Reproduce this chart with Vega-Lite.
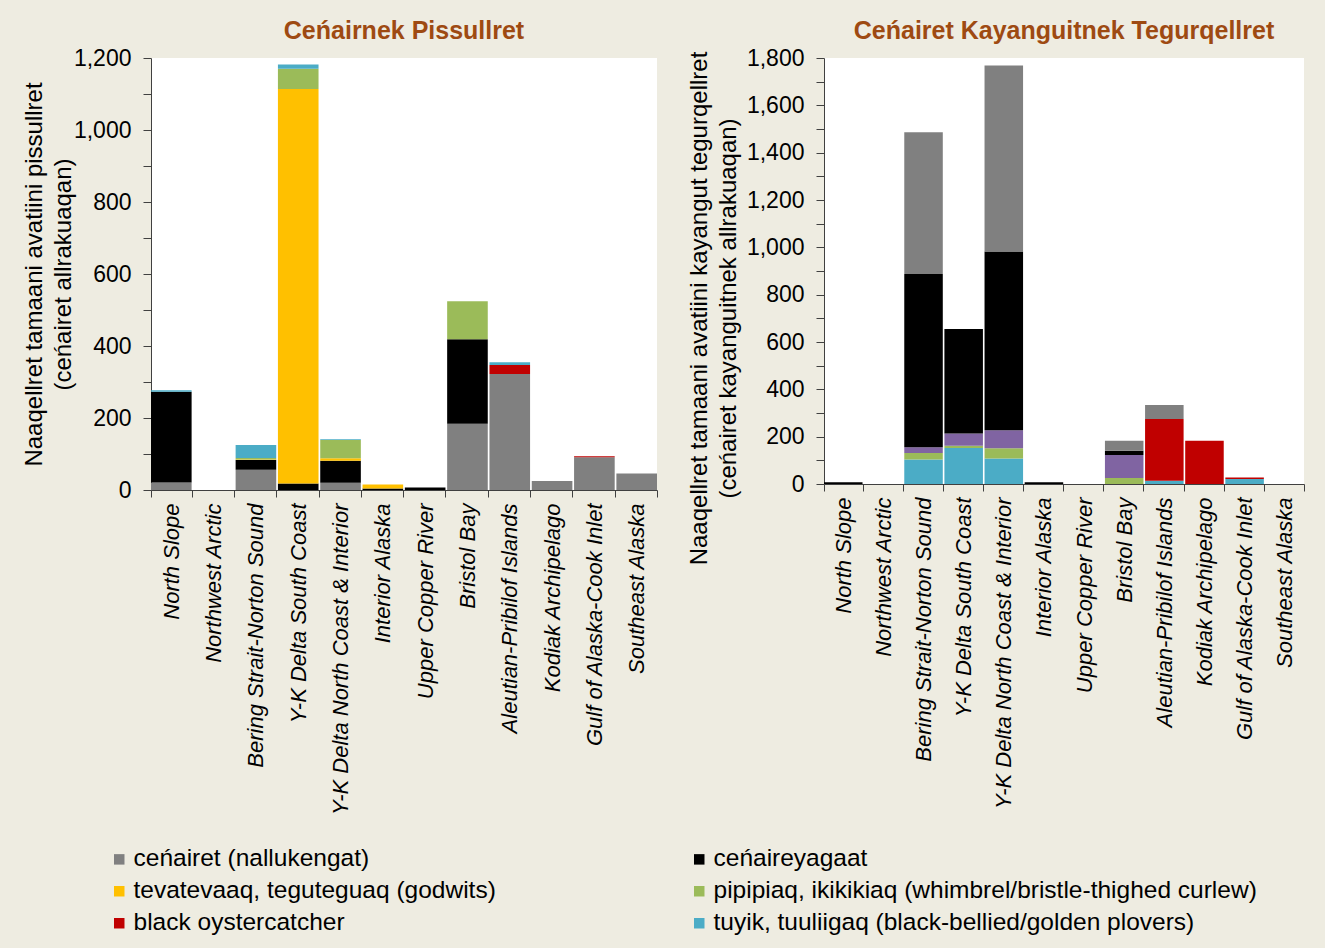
{
  "$schema": "https://vega.github.io/schema/vega-lite/v6.json",
  "background": "#EEECE1",
  "padding": {"left": 22, "top": 19, "right": 22, "bottom": 14},
  "datasets": {
    "left": [
      {"region": "North Slope", "species": "ceńairet (nallukengat)", "n": 21},
      {"region": "North Slope", "species": "ceńaireyagaat", "n": 252},
      {"region": "North Slope", "species": "tuyik, tuuliigaq (black-bellied/golden plovers)", "n": 4},
      {"region": "Bering Strait-Norton Sound", "species": "ceńairet (nallukengat)", "n": 56},
      {"region": "Bering Strait-Norton Sound", "species": "ceńaireyagaat", "n": 27},
      {"region": "Bering Strait-Norton Sound", "species": "tevatevaaq, teguteguaq (godwits)", "n": 2},
      {"region": "Bering Strait-Norton Sound", "species": "pipipiaq, ikikikiaq (whimbrel/bristle-thighed curlew)", "n": 4},
      {"region": "Bering Strait-Norton Sound", "species": "tuyik, tuuliigaq (black-bellied/golden plovers)", "n": 36},
      {"region": "Y-K Delta South Coast", "species": "ceńaireyagaat", "n": 18},
      {"region": "Y-K Delta South Coast", "species": "tevatevaaq, teguteguaq (godwits)", "n": 1096},
      {"region": "Y-K Delta South Coast", "species": "pipipiaq, ikikikiaq (whimbrel/bristle-thighed curlew)", "n": 56},
      {"region": "Y-K Delta South Coast", "species": "tuyik, tuuliigaq (black-bellied/golden plovers)", "n": 12},
      {"region": "Y-K Delta North Coast & Interior", "species": "ceńairet (nallukengat)", "n": 20},
      {"region": "Y-K Delta North Coast & Interior", "species": "ceńaireyagaat", "n": 61},
      {"region": "Y-K Delta North Coast & Interior", "species": "tevatevaaq, teguteguaq (godwits)", "n": 7},
      {"region": "Y-K Delta North Coast & Interior", "species": "pipipiaq, ikikikiaq (whimbrel/bristle-thighed curlew)", "n": 51},
      {"region": "Y-K Delta North Coast & Interior", "species": "tuyik, tuuliigaq (black-bellied/golden plovers)", "n": 2},
      {"region": "Interior Alaska", "species": "ceńaireyagaat", "n": 4},
      {"region": "Interior Alaska", "species": "tevatevaaq, teguteguaq (godwits)", "n": 11},
      {"region": "Upper Copper River", "species": "ceńaireyagaat", "n": 7},
      {"region": "Bristol Bay", "species": "ceńairet (nallukengat)", "n": 184},
      {"region": "Bristol Bay", "species": "ceńaireyagaat", "n": 235},
      {"region": "Bristol Bay", "species": "pipipiaq, ikikikiaq (whimbrel/bristle-thighed curlew)", "n": 105},
      {"region": "Aleutian-Pribilof Islands", "species": "ceńairet (nallukengat)", "n": 322},
      {"region": "Aleutian-Pribilof Islands", "species": "black oystercatcher", "n": 25},
      {"region": "Aleutian-Pribilof Islands", "species": "tuyik, tuuliigaq (black-bellied/golden plovers)", "n": 8},
      {"region": "Kodiak Archipelago", "species": "ceńairet (nallukengat)", "n": 25},
      {"region": "Gulf of Alaska-Cook Inlet", "species": "ceńairet (nallukengat)", "n": 91},
      {"region": "Gulf of Alaska-Cook Inlet", "species": "black oystercatcher", "n": 3},
      {"region": "Southeast Alaska", "species": "ceńairet (nallukengat)", "n": 46}
    ],
    "right": [
      {"region": "North Slope", "species": "ceńaireyagaat", "n": 7},
      {"region": "Bering Strait-Norton Sound", "species": "tuyik, tuuliigaq (black-bellied/golden plovers)", "n": 103},
      {"region": "Bering Strait-Norton Sound", "species": "pipipiaq, ikikikiaq (whimbrel/bristle-thighed curlew)", "n": 28},
      {"region": "Bering Strait-Norton Sound", "species": "allat", "n": 24},
      {"region": "Bering Strait-Norton Sound", "species": "ceńaireyagaat", "n": 732},
      {"region": "Bering Strait-Norton Sound", "species": "ceńairet (nallukengat)", "n": 599},
      {"region": "Y-K Delta South Coast", "species": "tuyik, tuuliigaq (black-bellied/golden plovers)", "n": 152},
      {"region": "Y-K Delta South Coast", "species": "pipipiaq, ikikikiaq (whimbrel/bristle-thighed curlew)", "n": 10},
      {"region": "Y-K Delta South Coast", "species": "allat", "n": 51},
      {"region": "Y-K Delta South Coast", "species": "ceńaireyagaat", "n": 442},
      {"region": "Y-K Delta North Coast & Interior", "species": "tuyik, tuuliigaq (black-bellied/golden plovers)", "n": 108},
      {"region": "Y-K Delta North Coast & Interior", "species": "pipipiaq, ikikikiaq (whimbrel/bristle-thighed curlew)", "n": 43},
      {"region": "Y-K Delta North Coast & Interior", "species": "allat", "n": 76},
      {"region": "Y-K Delta North Coast & Interior", "species": "ceńaireyagaat", "n": 755},
      {"region": "Y-K Delta North Coast & Interior", "species": "ceńairet (nallukengat)", "n": 786},
      {"region": "Interior Alaska", "species": "ceńaireyagaat", "n": 7},
      {"region": "Bristol Bay", "species": "pipipiaq, ikikikiaq (whimbrel/bristle-thighed curlew)", "n": 25},
      {"region": "Bristol Bay", "species": "allat", "n": 98},
      {"region": "Bristol Bay", "species": "ceńaireyagaat", "n": 18},
      {"region": "Bristol Bay", "species": "ceńairet (nallukengat)", "n": 42},
      {"region": "Aleutian-Pribilof Islands", "species": "tuyik, tuuliigaq (black-bellied/golden plovers)", "n": 14},
      {"region": "Aleutian-Pribilof Islands", "species": "black oystercatcher", "n": 261},
      {"region": "Aleutian-Pribilof Islands", "species": "ceńairet (nallukengat)", "n": 59},
      {"region": "Kodiak Archipelago", "species": "black oystercatcher", "n": 183},
      {"region": "Gulf of Alaska-Cook Inlet", "species": "tuyik, tuuliigaq (black-bellied/golden plovers)", "n": 21},
      {"region": "Gulf of Alaska-Cook Inlet", "species": "black oystercatcher", "n": 6}
    ]
  },
  "hconcat": [
    {
      "width": 506,
      "height": 432,
      "title": {"text": "Ceńairnek Pissullret", "frame": "group"},
      "data": {"name": "left"},
      "transform": [
        {"calculate": "indexof(['ceńairet (nallukengat)','ceńaireyagaat','tevatevaaq, teguteguaq (godwits)','pipipiaq, ikikikiaq (whimbrel/bristle-thighed curlew)','black oystercatcher','tuyik, tuuliigaq (black-bellied/golden plovers)'], datum.species)", "as": "o"}
      ],
      "mark": {"type": "bar"},
      "encoding": {
        "x": {
          "field": "region", "type": "nominal",
          "scale": {"domain": ["North Slope","Northwest Arctic","Bering Strait-Norton Sound","Y-K Delta South Coast","Y-K Delta North Coast & Interior","Interior Alaska","Upper Copper River","Bristol Bay","Aleutian-Pribilof Islands","Kodiak Archipelago","Gulf of Alaska-Cook Inlet","Southeast Alaska"], "paddingInner": 0.04, "paddingOuter": 0.0},
          "axis": {"title": null}
        },
        "y": {
          "field": "n", "type": "quantitative", "aggregate": "sum", "stack": "zero",
          "scale": {"domain": [0, 1200], "nice": false},
          "axis": {
            "title": ["Naaqellret tamaani avatiini pissullret", "(ceńairet allrakuaqan)"],
            "titlePadding": -2,
            "values": [0,100,200,300,400,500,600,700,800,900,1000,1100,1200],
            "labelExpr": "datum.value % 200 === 0 ? format(datum.value, ',d') : ''"
          }
        },
        "color": {
          "field": "species", "type": "nominal",
          "scale": {
            "domain": ["ceńairet (nallukengat)","ceńaireyagaat","tevatevaaq, teguteguaq (godwits)","pipipiaq, ikikikiaq (whimbrel/bristle-thighed curlew)","black oystercatcher","tuyik, tuuliigaq (black-bellied/golden plovers)","allat"],
            "range": ["#808080", "#000000", "#FFC000", "#9BBB59", "#C00000", "#4BACC6", "#8064A2"]
          },
          "legend": {
            "values": ["ceńairet (nallukengat)","ceńaireyagaat","tevatevaaq, teguteguaq (godwits)","pipipiaq, ikikikiaq (whimbrel/bristle-thighed curlew)","black oystercatcher","tuyik, tuuliigaq (black-bellied/golden plovers)"],
            "orient": "none", "legendX": -44, "legendY": 789,
            "direction": "horizontal", "columns": 2, "gridAlign": "each"
          }
        },
        "order": {"field": "o", "type": "quantitative", "sort": "ascending"}
      }
    },
    {
      "width": 480,
      "height": 426,
      "title": {"text": "Ceńairet Kayanguitnek Tegurqellret", "frame": "group"},
      "data": {"name": "right"},
      "transform": [
        {"calculate": "indexof(['tuyik, tuuliigaq (black-bellied/golden plovers)','black oystercatcher','pipipiaq, ikikikiaq (whimbrel/bristle-thighed curlew)','allat','tevatevaaq, teguteguaq (godwits)','ceńaireyagaat','ceńairet (nallukengat)'], datum.species)", "as": "o"}
      ],
      "mark": {"type": "bar"},
      "encoding": {
        "x": {
          "field": "region", "type": "nominal",
          "scale": {"domain": ["North Slope","Northwest Arctic","Bering Strait-Norton Sound","Y-K Delta South Coast","Y-K Delta North Coast & Interior","Interior Alaska","Upper Copper River","Bristol Bay","Aleutian-Pribilof Islands","Kodiak Archipelago","Gulf of Alaska-Cook Inlet","Southeast Alaska"], "paddingInner": 0.04, "paddingOuter": 0.0},
          "axis": {"title": null}
        },
        "y": {
          "field": "n", "type": "quantitative", "aggregate": "sum", "stack": "zero",
          "scale": {"domain": [0, 1800], "nice": false},
          "axis": {
            "title": ["Naaqellret tamaani avatiini kayangut tegurqellret", "(ceńairet kayanguitnek allrakuaqan)"],
            "titleY": 250,
            "titlePadding": 6,
            "values": [0,100,200,300,400,500,600,700,800,900,1000,1100,1200,1300,1400,1500,1600,1700,1800],
            "labelExpr": "datum.value % 200 === 0 ? format(datum.value, ',d') : ''"
          }
        },
        "color": {"field": "species", "type": "nominal"},
        "order": {"field": "o", "type": "quantitative", "sort": "ascending"}
      }
    }
  ],
  "spacing": 29,
  "resolve": {"scale": {"color": "shared"}, "legend": {"color": "shared"}},
  "config": {
    "font": "Liberation Sans",
    "view": {"fill": "white", "stroke": null},
    "title": {"fontSize": 25, "fontWeight": "bold", "color": "#9E4A12", "anchor": "middle", "offset": 3, "font": "Liberation Sans"},
    "axis": {
      "domainColor": "#404040", "tickColor": "#404040", "tickSize": 8,
      "labelColor": "#000000", "titleColor": "#000000",
      "labelFont": "Liberation Sans", "titleFont": "Liberation Sans",
      "grid": false
    },
    "axisY": {"labelFontSize": 23, "labelPadding": 12, "titleFontSize": 24, "titleFontWeight": "normal", "titleLineHeight": 29},
    "axisX": {"labelFontSize": 22, "labelAngle": -90, "labelFontStyle": "italic", "labelPadding": 6, "tickBand": "extent", "tickSize": 7, "labelLimit": 400},
    "legend": {
      "title": null, "columnPadding": 191, "rowPadding": 7,
      "labelFontSize": 24.5, "labelFont": "Liberation Sans", "labelColor": "#000000",
      "symbolType": "square", "symbolSize": 110, "symbolStrokeWidth": 0, "labelOffset": 2,
      "labelLimit": 800
    }
  }
}
